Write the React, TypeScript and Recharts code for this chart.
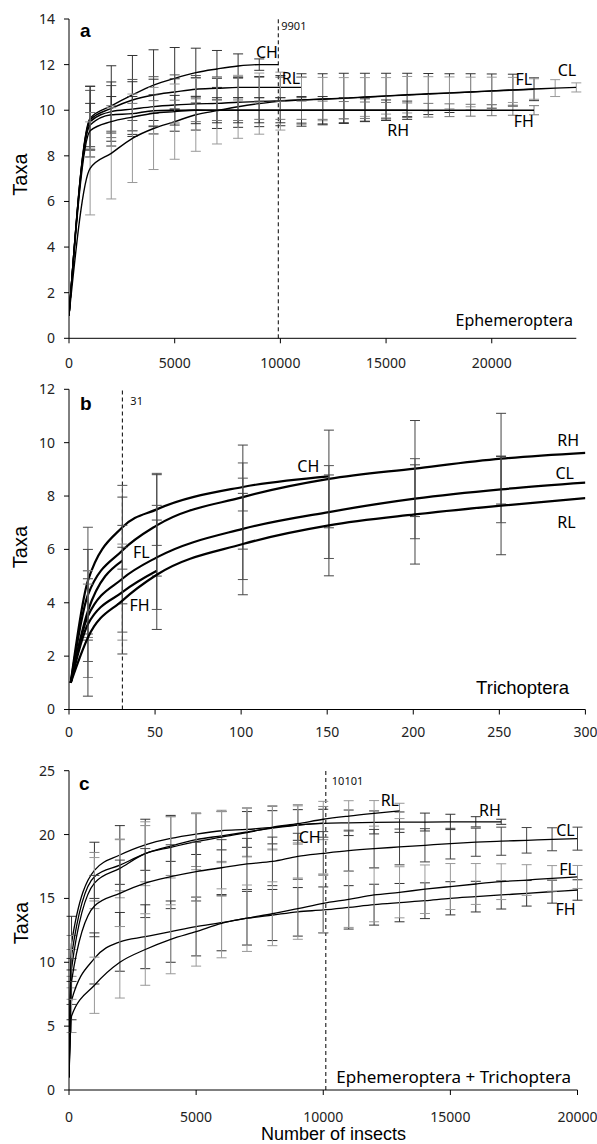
import React from 'react'
import { LineChart, Line, XAxis, YAxis, ErrorBar, ReferenceLine, ReferenceDot } from 'recharts'

const SANS = '"Noto Sans", "Open Sans", sans-serif'
const ARIAL = '"Liberation Sans", Arial, sans-serif'

// a – Ephemeroptera (x = number of insects)
const xA = [1, 1000, 2000, 3000, 4000, 5000, 6000, 7000, 8000, 9000, 10000, 11000, 12000, 13000, 14000, 15000, 16000, 17000, 18000, 19000, 20000, 21000, 22000, 23000, 24000]
const xA_CH = [1, 1000, 2000, 3000, 4000, 5000, 6000, 7000, 8000, 9000, 9901]
const aCH = [1, 9.65, 10.19, 10.67, 11.1, 11.4, 11.65, 11.81, 11.94, 12.0, 12.0]
const aCHsd = [0, 1.4, 1.76, 1.73, 1.55, 1.35, 1.07, 0.81, 0.53, 0.25, 0]
const aRL = [1, 9.57, 10.08, 10.45, 10.67, 10.8, 10.92, 10.96, 11.0, 11.0, 11.0, 11.0]
const aRLsd = [0, 1.3, 1.0, 0.9, 0.8, 0.75, 0.6, 0.5, 0.45, 0.45, 0.45, 0.45]
const aFL = [1, 9.5, 9.94, 10.05, 10.16, 10.23, 10.28, 10.3, 10.35, 10.38, 10.42, 10.45, 10.48, 10.52, 10.57, 10.62, 10.67, 10.71, 10.75, 10.8, 10.84, 10.88, 10.92]
const aFLsd = [0, 1.55, 1.3, 1.2, 1.2, 1.15, 1.15, 1.1, 1.1, 1.1, 1.1, 1.15, 1.12, 1.1, 1.05, 1.0, 0.95, 0.9, 0.85, 0.8, 0.75, 0.7, 0.5]
const aCL = [1, 7.45, 8.11, 8.77, 9.2, 9.5, 9.8, 9.98, 10.15, 10.29, 10.4, 10.45, 10.49, 10.53, 10.58, 10.63, 10.68, 10.72, 10.76, 10.8, 10.85, 10.89, 10.93, 10.97, 11.0]
const aCLsd = [0, 2.04, 2.0, 1.94, 1.8, 1.65, 1.6, 1.46, 1.38, 1.34, 1.27, 1.0, 0.95, 0.9, 0.85, 0.8, 0.8, 0.75, 0.7, 0.65, 0.6, 0.55, 0.45, 0.37, 0.2]
const aRH = [1, 9.35, 9.8, 9.85, 9.98, 10.0, 10.01, 10.0, 10.0, 10.0, 10.0, 10.0, 10.0, 10.0, 10.0, 10.0, 10.0]
const aRHsd = [0, 0.95, 0.8, 0.75, 0.7, 0.65, 0.6, 0.55, 0.55, 0.55, 0.55, 0.6, 0.6, 0.55, 0.5, 0.45, 0.4]
const aFH = [1, 9.1, 9.5, 9.7, 9.87, 9.94, 10.0, 10.0, 10.0, 10.0, 10.0, 10.0, 10.0, 10.0, 10.0, 10.0, 10.0, 10.0, 10.0, 10.0, 10.0, 10.0, 10.0]
const aFHsd = [0, 0.8, 0.7, 0.6, 0.55, 0.5, 0.5, 0.45, 0.45, 0.4, 0.4, 0.4, 0.4, 0.38, 0.36, 0.34, 0.32, 0.3, 0.28, 0.26, 0.24, 0.22, 0.2]

// b – Trichoptera
const xB = [1, 11, 31, 51, 101, 151, 201, 251, 300]
const bCH = [1, 4.83, 6.83, 7.5, 8.34, 8.74]
const bCHsd = [0, 2.0, 1.57, 1.35, 0.9, 0]
const bRH = [1, 4.3, 5.96, 6.9, 7.96, 8.64, 9.03, 9.4, 9.62]
const bRHsd = [0, 1.7, 2.0, 1.9, 1.95, 1.83, 1.8, 1.7, 0]
const bFL = [1, 3.7, 5.58]
const bFLsd = [0, 1.0, 0]
const bCL = [1, 3.5, 4.9, 5.7, 6.77, 7.4, 7.9, 8.25, 8.5]
const bCLsd = [0, 1.7, 2.0, 1.95, 1.9, 1.74, 1.5, 1.25, 0]
const bFH = [1, 3.2, 4.4, 5.2]
const bFHsd = [0, 2.0, 1.8, 0]
const bRL = [1, 2.7, 4.08, 5.05, 6.2, 6.9, 7.31, 7.64, 7.92]
const bRLsd = [0, 2.2, 2.0, 2.05, 1.9, 1.89, 1.86, 1.84, 0]

// c – Ephemeroptera + Trichoptera
const xC = [1, 100, 1000, 2000, 3000, 4000, 5000, 6000, 7000, 8000, 9000, 10000, 11000, 12000, 13000, 14000, 15000, 16000, 17000, 18000, 19000, 20000]
const cRH = [1, 11.5, 17.2, 18.4, 19.2, 19.7, 20.04, 20.3, 20.4, 20.57, 20.75, 20.88, 20.92, 20.95, 20.97, 20.98, 20.99, 21.0, 21.0]
const cRHsd = [0, 2.1, 2.2, 2.3, 2.0, 1.8, 1.6, 1.5, 1.4, 1.3, 1.2, 1.1, 1.0, 0.9, 0.8, 0.7, 0.6, 0.4, 0.2]
const cCH = [1, 10.5, 16.7, 17.6, 18.5, 19.1, 19.6, 19.9, 20.2, 20.5, 20.75, 20.9]
const cCHsd = [0, 1.6, 1.9, 2.0, 2.2, 2.3, 2.1, 2.0, 1.9, 1.7, 1.5, 1.3]
const cRL = [1, 9.5, 16.2, 17.35, 18.5, 19.0, 19.45, 19.8, 20.15, 20.57, 20.85, 21.2, 21.45, 21.66, 21.85]
const cRLsd = [0, 1.5, 2.0, 2.3, 2.5, 2.4, 2.2, 2.0, 1.9, 1.7, 1.5, 1.4, 1.2, 1.0, 0.6]
const cCL = [1, 8.5, 14.4, 15.4, 16.2, 16.7, 17.1, 17.4, 17.7, 17.9, 18.3, 18.53, 18.74, 18.9, 19.03, 19.16, 19.29, 19.4, 19.48, 19.55, 19.63, 19.68]
const cCLsd = [0, 1.8, 2.4, 2.6, 2.7, 2.5, 2.3, 2.2, 2.0, 1.9, 1.8, 1.7, 1.6, 1.5, 1.4, 1.3, 1.2, 1.1, 1.1, 1.0, 0.9, 0.9]
const cFH = [1, 7.0, 10.3, 11.6, 12.0, 12.4, 12.8, 13.1, 13.45, 13.7, 13.95, 14.1, 14.3, 14.51, 14.67, 14.82, 15.01, 15.14, 15.27, 15.4, 15.53, 15.66]
const cFHsd = [0, 1.5, 2.0, 2.3, 2.5, 2.4, 2.3, 2.2, 2.1, 2.0, 1.9, 1.8, 1.7, 1.6, 1.5, 1.4, 1.3, 1.2, 1.1, 1.0, 0.9, 0.8]
const cFL = [1, 5.8, 8.2, 10.0, 11.0, 11.8, 12.4, 13.05, 13.45, 13.8, 14.2, 14.62, 14.93, 15.27, 15.48, 15.72, 15.93, 16.13, 16.31, 16.44, 16.57, 16.68]
const cFLsd = [0, 1.3, 2.2, 2.8, 2.8, 2.7, 2.7, 2.7, 2.6, 2.5, 2.4, 2.3, 2.2, 2.1, 2.0, 1.9, 1.8, 1.6, 1.4, 1.2, 1.0, 0.9]

// series name labels, in data coordinates [name, x, y]
const namesA: [string, number, number][] = [['CH', 9366, 12.56], ['RL', 10500, 11.4], ['RH', 15570, 9.13], ['FL', 21520, 11.37], ['CL', 23560, 11.77], ['FH', 21520, 9.5]]
const namesB: [string, number, number][] = [['CH', 139, 9.13], ['RH', 290, 10.1], ['CL', 288, 8.84], ['RL', 289, 7.03], ['FL', 42, 5.89], ['FH', 41, 3.89]]
const namesC: [string, number, number][] = [['RL', 12618, 22.7], ['RH', 16555, 21.93], ['CL', 19528, 20.32], ['FL', 19606, 17.3], ['FH', 19528, 14.17], ['CH', 9469, 19.77]]

type Series = { name: string; xs: number[]; ys: number[]; sd: number[]; bar: string }

const seriesA: Series[] = [
	{ name: 'CH', xs: xA_CH, ys: aCH, sd: aCHsd, bar: '#333' },
	{ name: 'RL', xs: xA, ys: aRL, sd: aRLsd, bar: '#555' },
	{ name: 'FL', xs: xA, ys: aFL, sd: aFLsd, bar: '#333' },
	{ name: 'CL', xs: xA, ys: aCL, sd: aCLsd, bar: '#999' },
	{ name: 'RH', xs: xA, ys: aRH, sd: aRHsd, bar: '#333' },
	{ name: 'FH', xs: xA, ys: aFH, sd: aFHsd, bar: '#777' },
]
const seriesB: Series[] = [
	{ name: 'CH', xs: xB, ys: bCH, sd: bCHsd, bar: '#555' },
	{ name: 'RH', xs: xB, ys: bRH, sd: bRHsd, bar: '#444' },
	{ name: 'FL', xs: xB, ys: bFL, sd: bFLsd, bar: '#777' },
	{ name: 'CL', xs: xB, ys: bCL, sd: bCLsd, bar: '#555' },
	{ name: 'FH', xs: xB, ys: bFH, sd: bFHsd, bar: '#888' },
	{ name: 'RL', xs: xB, ys: bRL, sd: bRLsd, bar: '#444' },
]
const seriesC: Series[] = [
	{ name: 'RH', xs: xC, ys: cRH, sd: cRHsd, bar: '#333' },
	{ name: 'CH', xs: xC, ys: cCH, sd: cCHsd, bar: '#888' },
	{ name: 'RL', xs: xC, ys: cRL, sd: cRLsd, bar: '#999' },
	{ name: 'CL', xs: xC, ys: cCL, sd: cCLsd, bar: '#444' },
	{ name: 'FH', xs: xC, ys: cFH, sd: cFHsd, bar: '#333' },
	{ name: 'FL', xs: xC, ys: cFL, sd: cFLsd, bar: '#999' },
]

const toRows = (s: Series) => s.ys.map((y, i) => ({ x: s.xs[i], y, e: s.sd[i] }))

const tickStyle = { fontSize: 14, fill: '#222', fontFamily: SANS }

type PanelProps = {
	top: number
	height: number
	plotTop: number
	plotBottom: number
	plotRight: number
	xMax: number
	xTicks: number[]
	yMax: number
	yTicks: number[]
	series: Series[]
	names: [string, number, number][]
	refX: number
	lineWidth: number
	xTickGap: number
	refOffset: number
}

const Panel = (p: PanelProps) => (
	<div style={{ position: 'absolute', left: 0, top: p.top }}>
		<LineChart
			width={597}
			height={p.height}
			margin={{ top: p.plotTop - p.top, right: 597 - p.plotRight, bottom: 0, left: 0 }}
		>
			<XAxis
				type='number'
				dataKey='x'
				domain={[0, p.xMax]}
				ticks={p.xTicks}
				interval={0}
				allowDataOverflow
				height={p.top + p.height - p.plotBottom}
				tickSize={5}
				tickMargin={p.xTickGap}
				stroke='#000'
				tick={tickStyle}
			/>
			<YAxis
				type='number'
				domain={[0, p.yMax]}
				ticks={p.yTicks}
				interval={0}
				allowDataOverflow
				width={69}
				tickSize={5}
				tickMargin={9}
				stroke='#000'
				tick={tickStyle}
			/>
			<ReferenceLine
				x={p.refX}
				stroke='#000'
				strokeDasharray='4 3'
				label={{ value: String(p.refX), position: 'insideTopLeft', offset: p.refOffset, fontSize: 11, fill: '#111', fontFamily: SANS }}
			/>
			{p.series.map((s) => (
				<Line
					key={s.name}
					data={toRows(s)}
					dataKey='y'
					type='monotone'
					stroke='#000'
					strokeWidth={p.lineWidth}
					dot={false}
					isAnimationActive={false}
				>
					<ErrorBar dataKey='e' width={5} stroke={s.bar} strokeWidth={1} isAnimationActive={false} />
				</Line>
			))}
			{p.names.map(([n, x, y]) => (
				<ReferenceDot
					key={n}
					x={x}
					y={y}
					r={0}
					fill='none'
					stroke='none'
					label={{ value: n, position: 'center', fontSize: 16, fill: '#000', fontFamily: SANS }}
				/>
			))}
		</LineChart>
	</div>
)

export default function App() {
	return (
		<div style={{ position: 'absolute', left: 0, top: 0, width: 597, height: 1144, background: '#fff' }}>
			<Panel
				top={0}
				height={372}
				plotTop={19}
				plotBottom={338.3}
				plotRight={576.3}
				xMax={24000}
				xTicks={[0, 5000, 10000, 15000, 20000]}
				yMax={14}
				yTicks={[0, 2, 4, 6, 8, 10, 12, 14]}
				series={seriesA}
				names={namesA}
				refX={9901}
				lineWidth={1.4}
				xTickGap={15}
				refOffset={3}
			/>
			<Panel
				top={372}
				height={376}
				plotTop={389.3}
				plotBottom={709.5}
				plotRight={585.4}
				xMax={300}
				xTicks={[0, 50, 100, 150, 200, 250, 300]}
				yMax={12}
				yTicks={[0, 2, 4, 6, 8, 10, 12]}
				series={seriesB}
				names={namesB}
				refX={31}
				lineWidth={2.2}
				xTickGap={13}
				refOffset={8}
			/>
			<Panel
				top={750}
				height={394}
				plotTop={770.7}
				plotBottom={1090}
				plotRight={577.5}
				xMax={20000}
				xTicks={[0, 5000, 10000, 15000, 20000]}
				yMax={25}
				yTicks={[0, 5, 10, 15, 20, 25]}
				series={seriesC}
				names={namesC}
				refX={10101}
				lineWidth={1.3}
				xTickGap={17}
				refOffset={6}
			/>
			<svg width={597} height={1144} style={{ position: 'absolute', left: 0, top: 0, pointerEvents: 'none' }}>
				<text x={80} y={37} fontFamily={ARIAL} fontWeight='bold' fontSize={19}>a</text>
				<text x={80} y={410} fontFamily={ARIAL} fontWeight='bold' fontSize={19}>b</text>
				<text x={79} y={790} fontFamily={ARIAL} fontWeight='bold' fontSize={19}>c</text>
				<text x={27} y={174.5} transform='rotate(-90 27 174.5)' textAnchor='middle' fontFamily={ARIAL} fontSize={20}>Taxa</text>
				<text x={27} y={547} transform='rotate(-90 27 547)' textAnchor='middle' fontFamily={ARIAL} fontSize={20}>Taxa</text>
				<text x={28} y={923} transform='rotate(-90 28 923)' textAnchor='middle' fontFamily={ARIAL} fontSize={20}>Taxa</text>
				<text x={573} y={326} textAnchor='end' fontFamily={SANS} fontSize={16}>Ephemeroptera</text>
				<text x={569} y={694} textAnchor='end' fontFamily={ARIAL} fontSize={18.5}>Trichoptera</text>
				<text x={571} y={1083} textAnchor='end' fontFamily={SANS} fontSize={17}>Ephemeroptera + Trichoptera</text>
				<text x={333.5} y={1140} textAnchor='middle' fontFamily={ARIAL} fontSize={18}>Number of insects</text>
			</svg>
		</div>
	)
}
